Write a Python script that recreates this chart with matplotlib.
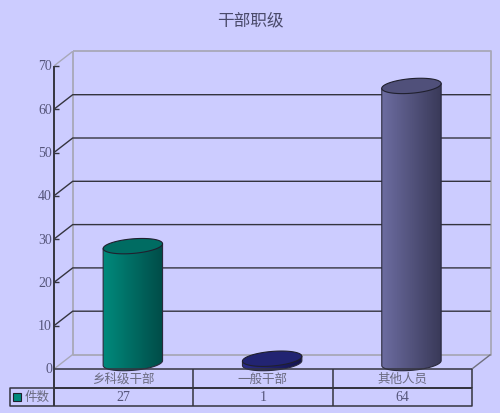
import numpy as np
import matplotlib
matplotlib.use("Agg")
import matplotlib.pyplot as plt
from matplotlib.colors import LinearSegmentedColormap
from matplotlib.patches import Polygon, Rectangle

plt.rcParams['font.family'] = ['Noto Sans CJK SC', 'DejaVu Sans']

title = "干部职级"
categories = ["乡科级干部", "一般干部", "其他人员"]
series_name = "件数"
values = [27, 1, 64]
y_ticks = [0, 10, 20, 30, 40, 50, 60, 70]

BG = "#ccccff"
DARK = "#34343f"
GREY = "#a8a8b8"
TEXT = "#55557a"
LABEL = "#6a6a80"
bar_colors = [("#008a7c", "#004c48", "#006c62"),
              ("#2a2c8a", "#14144e", "#222472"),
              ("#6c6ca0", "#393958", "#50507a")]

# pixel scale of the fake 3d box
PX_PER_CAT = 139.3
PX_PER_VAL = 4.33
X0 = 123.5
Y0 = 370.0
DEPTH_X = 18.7 / PX_PER_CAT
DEPTH_Y = 14.5 / PX_PER_VAL
RX = 29.7 / PX_PER_CAT
RY = 7.3 / PX_PER_VAL
TILT = 2.4 / PX_PER_VAL
BASE_SHIFT = 1.3 / PX_PER_VAL

fig = plt.figure(figsize=(5, 4.14), dpi=100, facecolor=BG)
ax = fig.add_axes([0, 0, 1, 1])
ax.axis("off")
xlim = (-X0 / PX_PER_CAT, (500 - X0) / PX_PER_CAT)
ylim = ((Y0 - 414) / PX_PER_VAL, Y0 / PX_PER_VAL)

x_front_l = (54.0 - X0) / PX_PER_CAT
x_front_r = x_front_l + len(categories)
x_back_l = x_front_l + DEPTH_X
x_back_r = x_front_r + DEPTH_X
top = y_ticks[-1]
row1 = -18.5 / PX_PER_VAL
row2 = -36.5 / PX_PER_VAL
x_legend = (9.5 - X0) / PX_PER_CAT


def line(xs, ys, color=DARK, lw=1.0, z=2):
    ax.plot(xs, ys, color=color, lw=lw, zorder=z, solid_capstyle="butt")


# walls
line([x_back_l, x_back_r, x_back_r, x_back_l, x_back_l],
     [top + DEPTH_Y, top + DEPTH_Y, DEPTH_Y, DEPTH_Y, top + DEPTH_Y], GREY, 1.3, 1)
line([x_front_l, x_back_l], [0, DEPTH_Y], GREY, 1.0, 1)
line([x_front_l, x_back_l], [top, top + DEPTH_Y], GREY, 1.0, 1)
line([x_front_r, x_back_r], [0, DEPTH_Y], "#70707e", 1.0, 1)

# grid lines and ticks
for v in y_ticks:
    if 0 < v < top:
        line([x_front_l, x_back_l, x_back_r], [v, v + DEPTH_Y, v + DEPTH_Y])
    if v > 0:
        line([x_front_l, x_front_l + 5 / PX_PER_CAT], [v, v], DARK, 1.0, 3)
    ax.text(x_front_l - 2 / PX_PER_CAT, v, str(v), ha="right", va="center",
            family="Liberation Serif", fontsize=10, color=TEXT)

# cylinders
t = np.linspace(0, 2 * np.pi, 120)
for i, (val, cols) in enumerate(zip(values, bar_colors)):
    cx = i + DEPTH_X / 2
    base = DEPTH_Y / 2 - BASE_SHIFT
    ex = cx + RX * np.cos(t)
    ey = RY * np.sin(t) + TILT * np.cos(t)
    lower = np.linspace(np.pi, 2 * np.pi, 60)
    bx = cx + RX * np.cos(lower)
    by = base + RY * np.sin(lower) + TILT * np.cos(lower)
    body = np.column_stack([np.r_[bx, cx + RX, cx - RX], np.r_[by, base + val + TILT, base + val - TILT]])
    cmap = LinearSegmentedColormap.from_list("c", [cols[0], cols[1]])
    grad = np.linspace(0, 1, 64).reshape(1, -1)
    im = ax.imshow(grad, cmap=cmap, extent=(cx - RX, cx + RX, base - RY - 1, base + val + RY),
                   aspect="auto", zorder=4)
    outline = Polygon(body, closed=True, fc="none", ec="#2a2a3c", lw=0.8, zorder=5)
    ax.add_patch(outline)
    im.set_clip_path(outline)
    ax.add_patch(Polygon(np.column_stack([ex, base + val + ey]), closed=True,
                         fc=cols[2], ec="#20202e", lw=0.8, zorder=6))

# data table under the box
line([x_front_l, x_front_r, x_front_r, x_legend, x_legend, x_front_r],
     [row1, row1, row2, row2, row1, row1], DARK, 1.1, 7)
line([x_front_l, x_front_r], [0, 0], DARK, 1.1, 7)
line([x_front_l, x_front_l], [top, row2], DARK, 1.4, 7)
line([x_front_r, x_front_r], [0, row1], DARK, 1.1, 7)
for i in range(1, len(categories)):
    line([x_front_l + i, x_front_l + i], [0, row2], DARK, 1.1, 7)
for i, (name, val) in enumerate(zip(categories, values)):
    xc = x_front_l + i + 0.5
    ax.text(xc, row1 / 2, name, ha="center", va="center",
            fontsize=9, color=LABEL, zorder=8)
    ax.text(xc, (row1 + row2) / 2, str(val), ha="center", va="center",
            family="Liberation Serif", fontsize=10, color=TEXT, zorder=8)

# legend cell
ax.add_patch(Rectangle((x_legend + 3.5 / PX_PER_CAT, row1 - 13.5 / PX_PER_VAL), 8 / PX_PER_CAT, 8 / PX_PER_VAL,
                       fc="#008a7c", ec="#20202e", lw=0.8, zorder=8))
ax.text(x_legend + 15.5 / PX_PER_CAT, (row1 + row2) / 2, series_name, ha="left", va="center",
        fontsize=9, color=LABEL, zorder=8)

ax.text((250 - X0) / PX_PER_CAT, (Y0 - 21) / PX_PER_VAL, title, ha="center", va="center",
        fontsize=12, color="#4a4a6a")

ax.set_xlim(*xlim)
ax.set_ylim(*ylim)
fig.savefig("out.png", dpi=100, facecolor=BG)
